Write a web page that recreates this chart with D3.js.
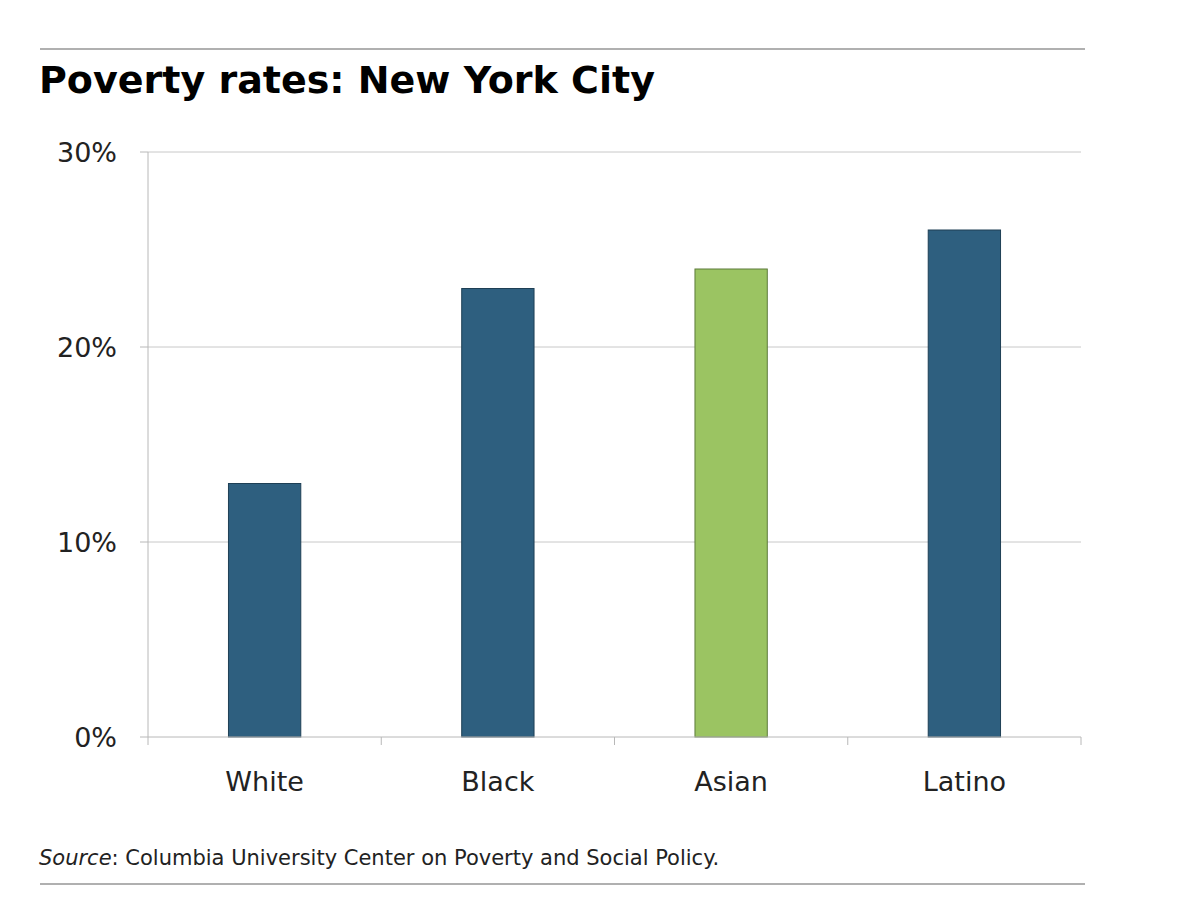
<!DOCTYPE html>
<html><head><meta charset="utf-8">
<script src="https://cdn.jsdelivr.net/npm/d3@7"></script>
<style>body{margin:0;background:#fff;} text{font-family:"DejaVu Sans",Verdana,sans-serif;}</style>
</head><body><svg width="1200" height="915"></svg>
<script>
var groups = ["White", "Black", "Asian", "Latino"];
var rates = [13, 23, 24, 26];
var yTicks = [0, 10, 20, 30];

var svg = d3.select("svg");
var x = d3.scaleBand().domain(groups).range([148, 1081]).paddingInner(0.69).paddingOuter(0.345);
var y = d3.scaleLinear().domain([0, 30]).range([737, 152]);

// rules
svg.append("line").attr("x1",40).attr("x2",1085).attr("y1",49).attr("y2",49).attr("stroke","#b0b0b0").attr("stroke-width",2);
svg.append("line").attr("x1",40).attr("x2",1085).attr("y1",884).attr("y2",884).attr("stroke","#b0b0b0").attr("stroke-width",2);

svg.append("text").attr("x",39).attr("y",93).attr("font-size","38px").attr("font-weight","bold").attr("fill","#000")
    .text("Poverty rates: New York City");

// gridlines
svg.append("g").selectAll("line").data(yTicks.slice(1)).enter().append("line")
    .attr("x1",148).attr("x2",1081)
    .attr("y1",function(d){return y(d);}).attr("y2",function(d){return y(d);})
    .attr("stroke","#c8c8c8").attr("stroke-width",1);

// left axis
svg.append("line").attr("x1",148).attr("x2",148).attr("y1",152).attr("y2",737).attr("stroke","#b8b8b8");
svg.append("g").selectAll("line").data(yTicks).enter().append("line")
    .attr("x1",140).attr("x2",148)
    .attr("y1",function(d){return y(d);}).attr("y2",function(d){return y(d);})
    .attr("stroke","#b8b8b8");
svg.append("g").selectAll("text").data(yTicks).enter().append("text")
    .attr("x",117).attr("y",function(d){return y(d)+10;})
    .attr("text-anchor","end").attr("font-size","27px").attr("fill","#222")
    .text(function(d){return d+"%";});

// bars
svg.append("g").selectAll("rect").data(rates).enter().append("rect")
    .attr("x",function(d,i){return x(groups[i]);})
    .attr("y",function(d){return y(d);})
    .attr("width",x.bandwidth())
    .attr("height",function(d){return y(0)-y(d);})
    .attr("fill",function(d,i){return groups[i]=="Asian" ? "#9bc462" : "#2e5f7f";})
    .attr("stroke",function(d,i){return groups[i]=="Asian" ? "#5d7a3a" : "#1e3f55";})
    .attr("stroke-width",1);

// x axis
svg.append("line").attr("x1",148).attr("x2",1081).attr("y1",737).attr("y2",737).attr("stroke","#b8b8b8");
var step = x.step();
svg.append("g").selectAll("line").data(d3.range(groups.length+1)).enter().append("line")
    .attr("x1",function(i){return 148+i*(933/groups.length);})
    .attr("x2",function(i){return 148+i*(933/groups.length);})
    .attr("y1",737).attr("y2",745).attr("stroke","#b8b8b8");
svg.append("g").selectAll("text").data(groups).enter().append("text")
    .attr("x",function(d){return x(d)+x.bandwidth()/2;})
    .attr("y",791).attr("text-anchor","middle").attr("font-size","27px").attr("fill","#222")
    .text(function(d){return d;});

var src = svg.append("text").attr("x",39).attr("y",865).attr("font-size","21px").attr("fill","#222");
src.append("tspan").attr("font-style","italic").text("Source");
src.append("tspan").text(": Columbia University Center on Poverty and Social Policy.");
</script></body></html>
